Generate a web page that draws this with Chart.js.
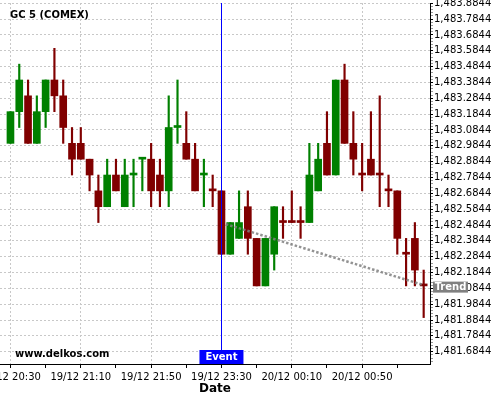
<!DOCTYPE html>
<html>
<head>
<meta charset="utf-8">
<script src="https://cdn.jsdelivr.net/npm/chart.js@4"></script>
<style>
  html, body { margin: 0; padding: 0; background: #fff; }
</style>
</head>
<body>
<canvas id="chart" width="500" height="400"></canvas>
<script>
// CANDLE DATA (5 min bars, market break between 21:55 and 23:00)
const times = [
  '19/12 20:30', '19/12 20:35', '19/12 20:40', '19/12 20:45', '19/12 20:50', '19/12 20:55',
  '19/12 21:00', '19/12 21:05', '19/12 21:10', '19/12 21:15', '19/12 21:20', '19/12 21:25',
  '19/12 21:30', '19/12 21:35', '19/12 21:40', '19/12 21:45', '19/12 21:50', '19/12 21:55',
  '19/12 23:00', '19/12 23:05', '19/12 23:10', '19/12 23:15', '19/12 23:20', '19/12 23:25',
  '19/12 23:30', '19/12 23:35', '19/12 23:40', '19/12 23:45', '19/12 23:50', '19/12 23:55',
  '20/12 00:00', '20/12 00:05', '20/12 00:10', '20/12 00:15', '20/12 00:20', '20/12 00:25',
  '20/12 00:30', '20/12 00:35', '20/12 00:40', '20/12 00:45', '20/12 00:50', '20/12 00:55',
  '20/12 01:00', '20/12 01:05', '20/12 01:10', '20/12 01:15', '20/12 01:20', '20/12 01:25'
];
const opens = [
  1483.0, 1483.2, 1483.3, 1483.0, 1483.2, 1483.4, 1483.3, 1483.0, 1483.0, 1482.9, 1482.7, 1482.6,
  1482.8, 1482.6, 1482.8, 1482.9, 1482.9, 1482.8, 1482.7, 1483.1, 1483.0, 1482.9, 1482.8, 1482.7,
  1482.7, 1482.3, 1482.4, 1482.6, 1482.4, 1482.1, 1482.3, 1482.5, 1482.5, 1482.5, 1482.5, 1482.7,
  1483.0, 1482.8, 1483.4, 1483.0, 1482.8, 1482.9, 1482.8, 1482.7, 1482.7, 1482.3, 1482.4, 1482.1
];
const highs = [
  1483.2, 1483.5, 1483.4, 1483.3, 1483.4, 1483.6, 1483.4, 1483.1, 1483.1, 1482.9, 1482.8, 1482.9,
  1482.9, 1482.9, 1482.9, 1482.9, 1483.0, 1482.9, 1483.3, 1483.4, 1483.2, 1483.0, 1482.9, 1482.8,
  1482.7, 1482.5, 1482.7, 1482.7, 1482.4, 1482.4, 1482.6, 1482.6, 1482.7, 1482.6, 1483.0, 1483.0,
  1483.2, 1483.4, 1483.5, 1483.2, 1483.0, 1483.2, 1483.3, 1482.8, 1482.7, 1482.4, 1482.5, 1482.2
];
const lows = [
  1483.0, 1483.1, 1483.0, 1483.0, 1483.1, 1483.2, 1483.0, 1482.8, 1482.9, 1482.7, 1482.5, 1482.6,
  1482.7, 1482.6, 1482.6, 1482.7, 1482.6, 1482.6, 1482.6, 1483.0, 1482.9, 1482.7, 1482.6, 1482.6,
  1482.3, 1482.3, 1482.4, 1482.3, 1482.1, 1482.1, 1482.2, 1482.4, 1482.5, 1482.4, 1482.5, 1482.7,
  1482.8, 1482.8, 1483.0, 1482.8, 1482.7, 1482.8, 1482.6, 1482.6, 1482.3, 1482.1, 1482.1, 1481.9
];
const closes = [
  1483.2, 1483.4, 1483.0, 1483.2, 1483.4, 1483.3, 1483.1, 1482.9, 1482.9, 1482.8, 1482.6, 1482.8,
  1482.7, 1482.8, 1482.8, 1482.9, 1482.7, 1482.7, 1483.1, 1483.1, 1482.9, 1482.7, 1482.8, 1482.7,
  1482.3, 1482.5, 1482.5, 1482.4, 1482.1, 1482.4, 1482.6, 1482.5, 1482.5, 1482.5, 1482.8, 1482.9,
  1482.8, 1483.4, 1483.0, 1482.9, 1482.8, 1482.8, 1482.8, 1482.7, 1482.4, 1482.3, 1482.2, 1482.1
];
// doji bars that are drawn green
const upDoji = [14, 15, 19, 22];

// Y AXIS LABELS
const yTicks = [
  1481.6844, 1481.7844, 1481.8844, 1481.9844, 1482.0844, 1482.1844, 1482.2844, 1482.3844,
  1482.4844, 1482.5844, 1482.6844, 1482.7844, 1482.8844, 1482.9844, 1483.0844, 1483.1844,
  1483.2844, 1483.3844, 1483.4844, 1483.5844, 1483.6844, 1483.7844, 1483.8844
];

// EVENT + TREND
const eventIndex = 24;
const trendX = [24.5, 47];
const trendY = [1482.49, 1482.105];

const up = '#008000';
const down = '#800000';
const grid = '#c8c8c8';

Chart.defaults.font.family = 'DejaVu Sans';
Chart.defaults.font.size = 10;
Chart.defaults.color = '#000';

const candleColor = times.map((t, i) =>
  closes[i] > opens[i] || (closes[i] === opens[i] && upDoji.includes(i)) ? up : down);

const fmt = v => v.toLocaleString('en-US', { minimumFractionDigits: 4, maximumFractionDigits: 4 });

const overlay = {
  id: 'overlay',
  afterDatasetsDraw(chart) {
    const { ctx, chartArea } = chart;
    const x = Math.round(chart.scales.x.getPixelForValue(eventIndex)) + 0.5;
    ctx.save();
    ctx.strokeStyle = '#0000ff';
    ctx.lineWidth = 1;
    ctx.beginPath();
    ctx.moveTo(x, chartArea.top);
    ctx.lineTo(x, chartArea.bottom);
    ctx.stroke();
    ctx.restore();
  },
  afterDraw(chart) {
    const { ctx, chartArea } = chart;
    ctx.save();
    ctx.fillStyle = '#000';
    ctx.font = 'bold 10px "DejaVu Sans"';
    ctx.textBaseline = 'middle';
    ctx.textAlign = 'left';
    ctx.fillText('GC 5 (COMEX)', 10, 15);
    ctx.fillText('www.delkos.com', 15, 354);

    // event label
    const ex = chart.scales.x.getPixelForValue(eventIndex);
    ctx.fillStyle = '#0000ff';
    ctx.fillRect(ex - 22, chartArea.bottom - 14, 44, 14);
    ctx.fillStyle = '#fff';
    ctx.textAlign = 'center';
    ctx.fillText('Event', ex, chartArea.bottom - 6.5);

    // trend label
    const ty = chart.scales.y.getPixelForValue(trendY[trendY.length - 1]);
    ctx.fillStyle = '#808080';
    ctx.fillRect(chartArea.right + 3, ty - 3.5, 35, 11);
    ctx.fillStyle = '#fff';
    ctx.fillText('Trend', chartArea.right + 20.5, ty + 2);
    ctx.restore();
  }
};

new Chart(document.getElementById('chart'), {
  type: 'bar',
  data: {
    datasets: [
      {
        type: 'line',
        data: trendX.map((x, i) => ({ x: x, y: trendY[i] })),
        borderColor: 'rgba(128,128,128,0.85)',
        borderWidth: 2.5,
        borderDash: [2.5, 2],
        pointRadius: 0,
        order: 0
      },
      {
        data: times.map((t, i) => ({ x: i, y: [opens[i], closes[i]] })),
        backgroundColor: candleColor,
        barThickness: 7,
        minBarLength: 2,
        grouped: false,
        order: 1
      },
      {
        data: times.map((t, i) => ({ x: i, y: [lows[i], highs[i]] })),
        backgroundColor: candleColor,
        barThickness: 1.5,
        grouped: false,
        order: 2
      }
    ]
  },
  options: {
    responsive: false,
    animation: false,
    layout: { padding: { top: 3, left: 0, right: 0, bottom: 0 } },
    plugins: {
      legend: { display: false },
      tooltip: { enabled: false }
    },
    scales: {
      x: {
        type: 'linear',
        min: -1.19,
        max: 47.72,
        offset: false,
        bounds: 'data',
        grid: {
          offset: false,
          color: c => (c.tick && c.tick.major) ? grid : 'rgba(0,0,0,0)',
          tickColor: '#000',
          tickLength: 4
        },
        border: { color: '#000', width: 1, dash: [2, 2] },
        ticks: {
          autoSkip: false,
          maxRotation: 0,
          padding: 3,
          callback: (v, i, ticks) => ticks[i].major ? times[v] : ''
        },
        title: {
          display: true,
          text: 'Date',
          font: { size: 12, weight: 'bold' },
          padding: { top: 0, bottom: 4 }
        },
        afterBuildTicks: scale => {
          const t = [];
          for (let i = 0; i < times.length; i += 4) t.push({ value: i, major: i % 8 === 0 });
          scale.ticks = t;
        },
        afterFit: scale => {
          scale.height = 36;
          scale.paddingLeft = 0;
          scale.paddingRight = 0;
        }
      },
      y: {
        type: 'linear',
        position: 'right',
        min: 1481.607,
        max: 1483.886,
        bounds: 'data',
        beginAtZero: false,
        grid: {
          color: c => (c.tick && c.tick.major) ? grid : 'rgba(0,0,0,0)',
          tickColor: c => (c.tick && c.tick.major) ? '#000' : '#999',
          tickLength: 3
        },
        border: { color: '#000', width: 1, dash: [2, 2] },
        ticks: {
          autoSkip: false,
          padding: 1,
          callback: (v, i, ticks) => ticks[i].major ? fmt(v) : ''
        },
        afterBuildTicks: scale => {
          const t = [];
          for (let k = 4; k >= 1; k--) {
            const v = yTicks[0] - k * 0.02;
            if (v >= scale.min) t.push({ value: v });
          }
          yTicks.forEach((v, i) => {
            t.push({ value: v, major: true });
            if (i < yTicks.length - 1) {
              for (let k = 1; k <= 4; k++) t.push({ value: v + k * 0.02 });
            }
          });
          scale.ticks = t;
        },
        afterFit: scale => {
          scale.width = 70;
          scale.paddingTop = 0;
          scale.paddingBottom = 0;
        }
      }
    }
  },
  plugins: [overlay]
});
</script>
</body>
</html>
